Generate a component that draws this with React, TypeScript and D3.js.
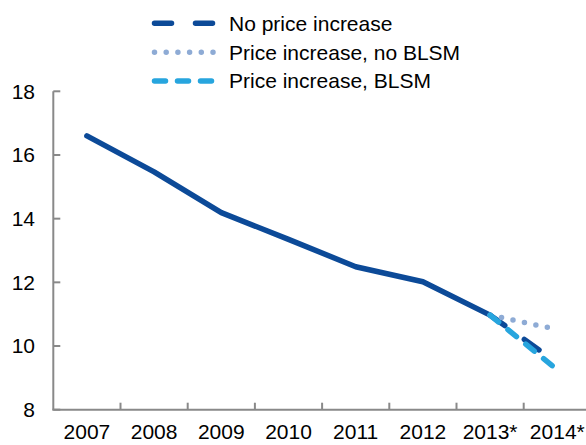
import React from "react";
import * as d3 from "d3";

const years = ["2007", "2008", "2009", "2010", "2011", "2012", "2013*", "2014*"];
const historyValues = [16.6, 15.47, 14.19, 13.35, 12.49, 12.02, 10.97];
const projYears = ["2013*", "2014*"];
const noPriceIncrease = [10.97, 9.47];
const priceNoBLSM = [10.97, 10.52];
const priceBLSM = [10.97, 9.25];
const yTicks = [8, 10, 12, 14, 16, 18];
const legendLabels = ["No price increase", "Price increase, no BLSM", "Price increase, BLSM"];

const W = 586;
const H = 445;
const FONT = "'Liberation Sans', Arial, sans-serif";
const DARK = "#0c4a98";
const DOT = "#8eabd5";
const LIGHT = "#27a5de";
const AXIS = "#898989";

export default function App() {
  const x0 = 53.3;
  const bw = 67.2;
  const x = d3.scaleBand<string>().domain(years).range([x0, x0 + bw * years.length]).padding(0);
  const y = d3.scaleLinear().domain([8, 18]).range([409.7, 91.3]);
  const cx = (yr: string) => (x(yr) as number) + x.bandwidth() / 2;

  const line = d3
    .line<[string, number]>()
    .x((d) => cx(d[0]))
    .y((d) => y(d[1]));

  const hist = line(years.slice(0, historyValues.length).map((yr, i) => [yr, historyValues[i]] as [string, number]));
  const proj = (vals: number[]) => line(projYears.map((yr, i) => [yr, vals[i]] as [string, number]));

  const styles = [
    { color: DARK, dash: "17 24" },
    { color: DOT, dash: "0 11.7" },
    { color: LIGHT, dash: "11 12" },
  ];
  const chartDark = "18 24";
  const legendY = [23.3, 52.3, 81];

  return (
    <svg width={W} height={H} style={{ position: "absolute", left: 0, top: 0 }} fontFamily={FONT}>
      <rect width={W} height={H} fill="#fff" />
      {/* y axis */}
      <line x1={x0} x2={x0} y1={y(18)} y2={y(8)} stroke={AXIS} strokeWidth={2} />
      {yTicks.map((t) => (
        <g key={t}>
          <line x1={x0} x2={x0 + 7} y1={y(t)} y2={y(t)} stroke={AXIS} strokeWidth={2} />
          <text x={35} y={y(t)} dy="0.35em" textAnchor="end" fontSize={21} fill="#000">
            {t}
          </text>
        </g>
      ))}
      {/* x axis */}
      <line x1={x0 - 1} x2={W} y1={y(8)} y2={y(8)} stroke={AXIS} strokeWidth={2} />
      {years.slice(1).map((yr) => (
        <line key={yr} x1={x(yr) as number} x2={x(yr) as number} y1={y(8)} y2={y(8) - 7} stroke={AXIS} strokeWidth={2} />
      ))}
      {years.map((yr) => (
        <text key={yr} x={cx(yr)} y={438.5} textAnchor="middle" fontSize={21} fill="#000">
          {yr}
        </text>
      ))}
      {/* lines */}
      <path d={hist || ""} fill="none" stroke={DARK} strokeWidth={5.5} strokeLinejoin="round" strokeLinecap="round" />
      <path d={proj(noPriceIncrease) || ""} fill="none" stroke={DARK} strokeWidth={5.5} strokeDasharray={chartDark} strokeLinecap="round" />
      <path d={proj(priceNoBLSM) || ""} fill="none" stroke={DOT} strokeWidth={5.5} strokeDasharray={styles[1].dash} strokeLinecap="round" />
      <path d={proj(priceBLSM) || ""} fill="none" stroke={LIGHT} strokeWidth={5.5} strokeDasharray={styles[2].dash} strokeLinecap="round" />
      {/* legend */}
      {legendLabels.map((lab, i) => (
        <g key={lab}>
          <line x1={154.5} x2={213} y1={legendY[i]} y2={legendY[i]} stroke={styles[i].color} strokeWidth={5.5} strokeDasharray={styles[i].dash} strokeLinecap="round" />
          <text x={229} y={legendY[i]} dy="0.35em" fontSize={21} fill="#000">
            {lab}
          </text>
        </g>
      ))}
    </svg>
  );
}
